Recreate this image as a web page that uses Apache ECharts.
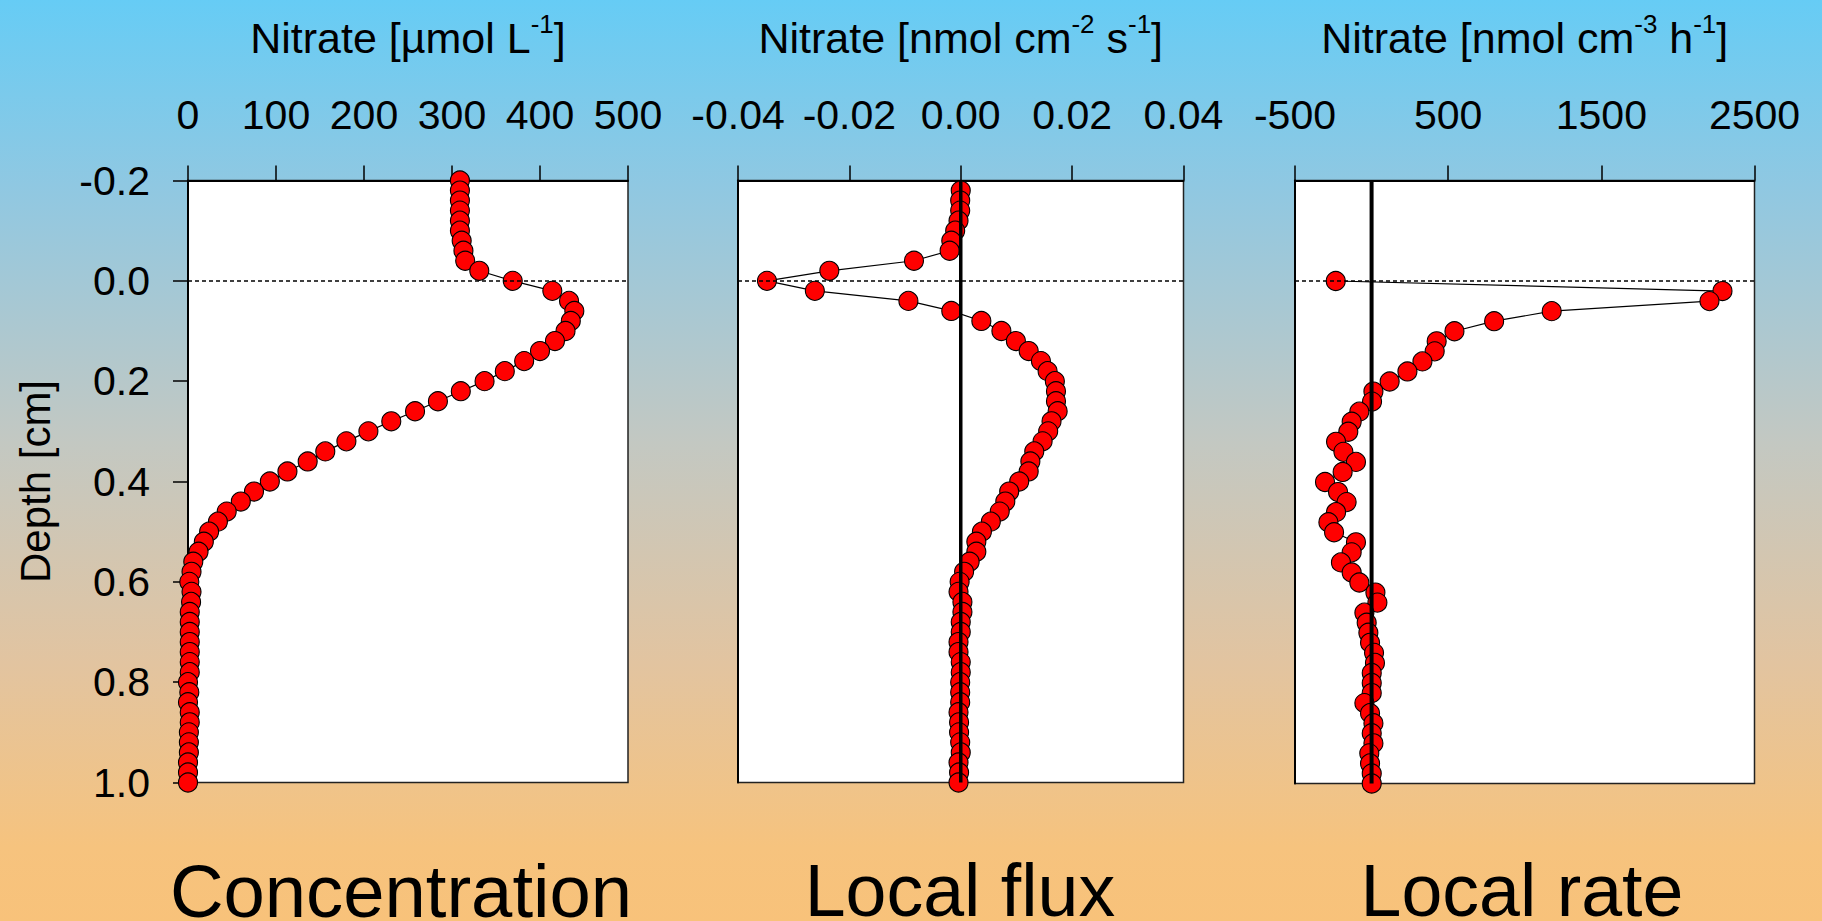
<!DOCTYPE html>
<html>
<head>
<meta charset="utf-8">
<script src="https://cdn.jsdelivr.net/npm/echarts@6/dist/echarts.min.js"></script>
<style>
html,body{margin:0;padding:0;overflow:hidden;}
#chart{width:1822px;height:921px;
background:linear-gradient(to bottom,#66CCF5 0%,#8FC8E2 20%,#C3C8C2 48%,#E2C4A0 72%,#F6C37E 92%,#F8C27A 100%);}
</style>
</head>
<body>
<div id="chart"></div>
<script>
// ---------- DATA ----------
const concDepth = [-0.20,-0.18,-0.16,-0.14,-0.12,-0.10,-0.08,-0.06,-0.04,-0.02,0.00,0.02,0.04,0.06,0.08,0.10,0.12,0.14,0.16,0.18,0.20,0.22,0.24,0.26,0.28,0.30,0.32,0.34,0.36,0.38,0.40,0.42,0.44,0.46,0.48,0.50,0.52,0.54,0.56,0.58,0.60,0.62,0.64,0.66,0.68,0.70,0.72,0.74,0.76,0.78,0.80,0.82,0.84,0.86,0.88,0.90,0.92,0.94,0.96,0.98,1.00];
const concValues = [309,309,309,309,309,309,311,313,315,331,369,414,433,439,435,429,417,400,382,360,337,310,284,258,231,205,180,156,136,113,93,75,60,44,34,24,18,12,6,4,1.5,4,3.5,2,2,2,2,2,2,2,0,1.5,0,2,2,1,1,1,0,0,0];

const fluxDepth = [-0.18,-0.16,-0.14,-0.12,-0.10,-0.08,-0.06,-0.04,-0.02,0.00,0.02,0.04,0.06,0.08,0.10,0.12,0.14,0.16,0.18,0.20,0.22,0.24,0.26,0.28,0.30,0.32,0.34,0.36,0.38,0.40,0.42,0.44,0.46,0.48,0.50,0.52,0.54,0.56,0.58,0.60,0.62,0.64,0.66,0.68,0.70,0.72,0.74,0.76,0.78,0.80,0.82,0.84,0.86,0.88,0.90,0.92,0.94,0.96,0.98,1.00];
const fluxValues = [0.0000,-0.0001,-0.0001,-0.0004,-0.0010,-0.0017,-0.0020,-0.0084,-0.0236,-0.0348,-0.0262,-0.0094,-0.0017,0.0037,0.0073,0.0099,0.0122,0.0144,0.0156,0.0169,0.0171,0.0171,0.0174,0.0163,0.0157,0.0147,0.0132,0.0125,0.0122,0.0105,0.0087,0.0080,0.0070,0.0054,0.0038,0.0028,0.0028,0.0016,0.0006,-0.0002,-0.0004,0.0003,0.0003,0.0000,0.0000,-0.0004,-0.0004,0.0000,0.0000,-0.0001,-0.0001,-0.0001,-0.0004,-0.0003,-0.0003,-0.0001,0.0000,-0.0004,-0.0003,-0.0004];

const rateDepth = [0.00,0.02,0.04,0.06,0.08,0.10,0.12,0.14,0.16,0.18,0.20,0.22,0.24,0.26,0.28,0.30,0.32,0.34,0.36,0.38,0.40,0.42,0.44,0.46,0.48,0.50,0.52,0.54,0.56,0.58,0.60,0.62,0.64,0.66,0.68,0.70,0.72,0.74,0.76,0.78,0.80,0.82,0.84,0.86,0.88,0.90,0.92,0.94,0.96,0.98,1.00];
const rateValues = [-234,2291,2206,1176,800,541,425,412,332,234,118,12,3,-80,-130,-152,-232,-184,-102,-189,-304,-219,-163,-232,-282,-245,-102,-130,-200,-130,-80,25,38,-47,-32,-21,-10,16,22,1,1,1,-47,-10,12,1,12,-15,-10,1,1];

const depthAxis = {min:-0.2, max:1.0, interval:0.2};
const concAxis = {min:0, max:500, interval:100};
const fluxAxis = {min:-0.04, max:0.04, interval:0.02};
const rateAxis = {min:-500, max:2500, interval:1000};
const zeroLineX = [0, 0];

const titleTexts = [
  '{m|Nitrate [µmol L}{s|-1}{m|]}',
  '{m|Nitrate [nmol cm}{s|-2}{m| s}{s|-1}{m|]}',
  '{m|Nitrate [nmol cm}{s|-3}{m| h}{s|-1}{m|]}'
];
const panelLabels = ['Concentration', 'Local flux', 'Local rate'];
const depthLabel = 'Depth [cm]';

// ---------- CHART ----------
const FONT = "'Liberation Sans', Arial, sans-serif";
const chart = echarts.init(document.getElementById('chart'), null, {renderer:'svg'});

const grids = [
  {left:188, top:180.5, width:440, height:602},
  {left:738, top:180.5, width:445.5, height:602},
  {left:1295, top:180.5, width:459.5, height:603}
].map(g => Object.assign({show:true, backgroundColor:'#ffffff', borderColor:'#222', borderWidth:1.5, outerBoundsMode:'none', containLabel:false}, g));

const clean = v => (Math.abs(v) < 1e-9 ? 0 : v);

function xAx(idx, ax, fmt) {
  return {
    type:'value', gridIndex:idx, position:'top',
    min:ax.min, max:ax.max, interval:ax.interval,
    axisLine:{show:true, onZero:false, lineStyle:{color:'#000', width:2}},
    axisTick:{show:true, inside:false, length:15, lineStyle:{color:'#000', width:1.5}},
    splitLine:{show:false},
    axisLabel:{show:true, margin:45, color:'#000', fontSize:41, lineHeight:41, fontFamily:FONT,
      showMinLabel:true, showMaxLabel:true, hideOverlap:false, formatter:fmt}
  };
}
function yAx(idx, showLabels) {
  return {
    type:'value', gridIndex:idx, inverse:true, position:'left',
    min:depthAxis.min, max:depthAxis.max, interval:depthAxis.interval,
    axisLine:{show:true, onZero:false, lineStyle:{color:'#000', width:2}},
    axisTick:{show:showLabels, length:15, lineStyle:{color:'#000', width:1.5}},
    splitLine:{show:false},
    axisLabel:{show:showLabels, margin:38, color:'#000', fontSize:41, lineHeight:41, fontFamily:FONT,
      showMinLabel:true, showMaxLabel:true, formatter: v => clean(v).toFixed(1)}
  };
}

const zip = (xs, ys) => xs.map((x, i) => [x, ys[i]]);

function dataSeries(idx, values, depth) {
  return {
    type:'line', xAxisIndex:idx, yAxisIndex:idx,
    data: zip(values, depth),
    symbol:'circle', symbolSize:19, showAllSymbol:true, clip:false,
    itemStyle:{color:'#ff0000', borderColor:'#000', borderWidth:1.1},
    lineStyle:{color:'#000', width:1.2},
    z:2, silent:true,
    markLine:{silent:true, symbol:'none', label:{show:false}, animation:false,
      lineStyle:{color:'#000', type:[4,3], width:1.6},
      data:[{yAxis:0}]}
  };
}
function zeroSeries(idx, w) {
  return {
    type:'line', xAxisIndex:idx, yAxisIndex:idx,
    data: zip(zeroLineX, [depthAxis.min, depthAxis.max]),
    symbol:'none', lineStyle:{color:'#000', width:w}, z:5, silent:true, clip:false
  };
}

const titleCenters = [408, 960.75, 1524.75];
const labelCenters = [401, 960, 1522];
const labelScale = [0.99, 0.98, 0.98];

const graphics = [];
titleTexts.forEach((t, i) => {
  graphics.push({
    type:'text', x:titleCenters[i], y:38.4, silent:true,
    style:{text:t, align:'center', verticalAlign:'middle', textAlign:'center', textVerticalAlign:'middle',
      fill:'#000', fontFamily:FONT, fontSize:43,
      rich:{
        m:{fontSize:43, lineHeight:54, fontFamily:FONT, fill:'#000', color:'#000'},
        s:{fontSize:26, lineHeight:26, fontFamily:FONT, fill:'#000', color:'#000', verticalAlign:'top'}
      }}
  });
});
panelLabels.forEach((t, i) => {
  graphics.push({
    type:'text', x:labelCenters[i], y:890.7, scaleX:labelScale[i], silent:true,
    style:{text:t, align:'center', verticalAlign:'middle', textAlign:'center', textVerticalAlign:'middle',
      fill:'#000', fontFamily:FONT, fontSize:75, lineHeight:60}
  });
});
graphics.push({
  type:'text', x:35, y:481.5, rotation:Math.PI/2, silent:true,
  style:{text:depthLabel, align:'center', verticalAlign:'middle', textAlign:'center', textVerticalAlign:'middle',
    fill:'#000', fontFamily:FONT, fontSize:42}
});

chart.setOption({
  animation:false,
  backgroundColor:'transparent',
  grid: grids,
  xAxis:[
    xAx(0, concAxis, v => String(clean(v))),
    xAx(1, fluxAxis, v => clean(v).toFixed(2)),
    xAx(2, rateAxis, v => String(clean(v)))
  ],
  yAxis:[yAx(0, true), yAx(1, false), yAx(2, false)],
  series:[
    dataSeries(0, concValues, concDepth),
    dataSeries(1, fluxValues, fluxDepth),
    zeroSeries(1, 3.5),
    dataSeries(2, rateValues, rateDepth),
    zeroSeries(2, 4)
  ],
  graphic: graphics
});
</script>
</body>
</html>
